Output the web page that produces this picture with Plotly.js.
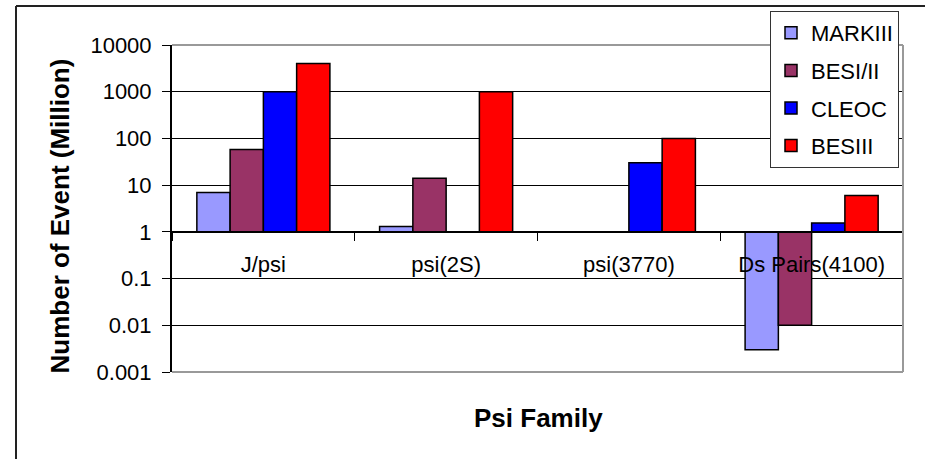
<!DOCTYPE html>
<html>
<head>
<meta charset="utf-8">
<script src="https://cdn.plot.ly/plotly-3.0.1.min.js"></script>
<style>
html,body{margin:0;padding:0;background:#fff;}
#chart{width:929px;height:459px;}
</style>
</head>
<body>
<div id="chart"></div>
<script>
var categories = ["J/psi", "psi(2S)", "psi(3770)", "Ds Pairs(4100)"];
var seriesNames = ["MARKIII", "BESI/II", "CLEOC", "BESIII"];
var markIII = [7, 1.3, null, 0.003];
var besIII_old = [58, 14, null, 0.01];
var cleoc = [1000, null, 30, 1.55];
var besIII = [4000, 1000, 100, 6];
var colors = ["#9999FF", "#993366", "#0000FF", "#FF0000"];
var tickVals = [0.001, 0.01, 0.1, 1, 10, 100, 1000, 10000];
var tickText = ["0.001", "0.01", "0.1", "1", "10", "100", "1000", "10000"];
var seriesValues = [markIII, besIII_old, cleoc, besIII];

var FONT = "Arial, 'Liberation Sans', sans-serif";
// bars start at 1 (Excel crosses the axis at 1): size = value - 1, base = 1
var traces = seriesValues.map(function (vals, i) {
  return {
    type: "bar",
    name: seriesNames[i],
    x: categories,
    y: vals.map(function (v) { return v === null ? null : v - 1; }),
    base: 1,
    legendgroup: "g" + i,
    marker: {color: colors[i], line: {color: "#000", width: 1.5}},
    hoverinfo: "skip"
  };
});

function px2x(p) { return (p - 172) / 731; }
function py2y(p) { return (372 - p) / 328; }

var layout = {
  width: 929, height: 459,
  margin: {l: 172, r: 26, t: 44, b: 87},
  paper_bgcolor: "#fff", plot_bgcolor: "#fff",
  font: {family: FONT, color: "#000", size: 22},
  barmode: "group", bargap: 0.272, bargroupgap: 0,
  showlegend: true,
  legend: {
    x: px2x(770), y: py2y(11), xanchor: "left", yanchor: "top",
    bgcolor: "#fff", bordercolor: "#333", borderwidth: 1,
    font: {family: FONT, size: 22, color: "#000"},
    traceorder: "grouped", tracegroupgap: 6, itemwidth: 30
  },
  xaxis: {
    type: "category", anchor: "free", position: py2y(232),
    showline: true, linecolor: "#000", linewidth: 1,
    ticks: "outside", ticklen: 8, tickcolor: "#000", tickwidth: 1, tickson: "boundaries",
    ticklabelstandoff: 12,
    showgrid: false, zeroline: false,
    tickfont: {family: FONT, size: 22, color: "#000"},
    fixedrange: true
  },
  yaxis: {
    type: "log", range: [-3, 4],
    tickmode: "array", tickvals: tickVals, ticktext: tickText,
    showline: true, linecolor: "#000", linewidth: 2,
    ticks: "outside", ticklen: 8, tickcolor: "#000", tickwidth: 1,
    ticklabelstandoff: 6,
    showgrid: true, gridcolor: "#000", gridwidth: 1,
    tickfont: {family: FONT, size: 22, color: "#000"},
    fixedrange: true
  },
  shapes: [
    {type: "line", xref: "paper", yref: "paper", x0: 0, x1: 1, y0: 1, y1: 1, line: {color: "#999", width: 2}},
    {type: "line", xref: "paper", yref: "paper", x0: 1, x1: 1, y0: 0, y1: 1, line: {color: "#999", width: 2}},
    {type: "line", xref: "paper", yref: "paper", x0: 0, x1: 1, y0: 0, y1: 0, line: {color: "#999", width: 2}},
    {type: "line", xref: "paper", yref: "paper", x0: px2x(16), x1: px2x(16), y0: py2y(5), y1: py2y(470), line: {color: "#222", width: 2}},
    {type: "line", xref: "paper", yref: "paper", x0: px2x(16), x1: px2x(925), y0: py2y(5), y1: py2y(5), line: {color: "#222", width: 2}}
  ],
  annotations: [
    {text: "<b>Number of Event (Million)</b>", xref: "paper", yref: "paper",
     x: px2x(60), y: py2y(216), textangle: -90, showarrow: false,
     xanchor: "center", yanchor: "middle", font: {family: FONT, size: 26, color: "#000"}},
    {text: "<b>Psi Family</b>", xref: "paper", yref: "paper",
     x: px2x(538), y: py2y(418), showarrow: false,
     xanchor: "center", yanchor: "middle", font: {family: FONT, size: 26, color: "#000"}}
  ]
};

Plotly.newPlot("chart", traces, layout, {staticPlot: true, displayModeBar: false});
</script>
</body>
</html>
